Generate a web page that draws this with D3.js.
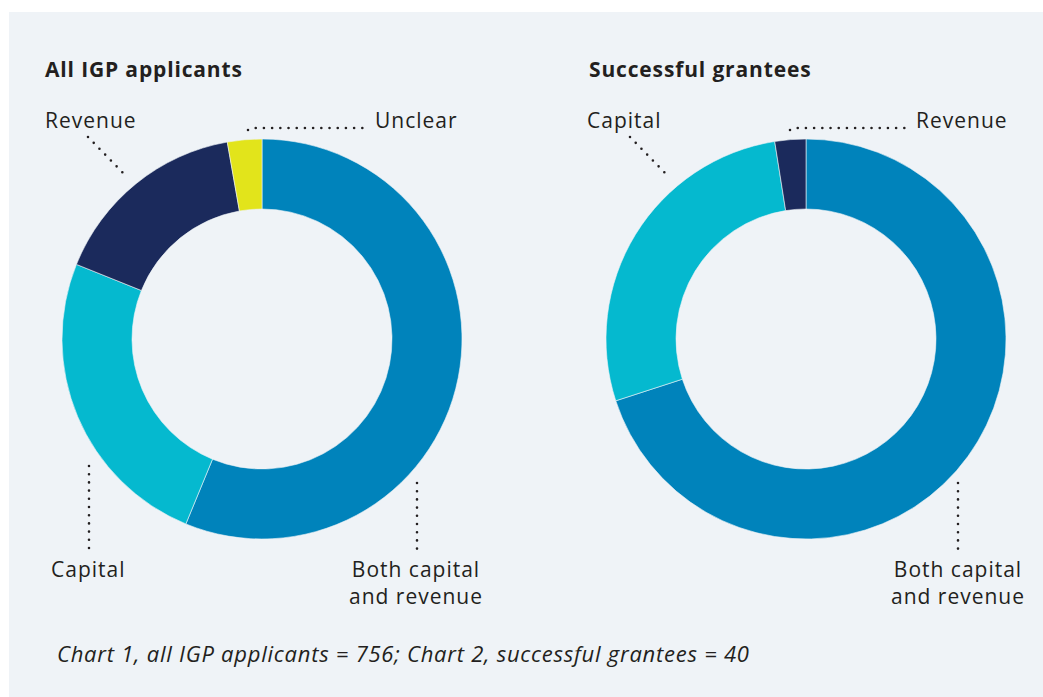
<!DOCTYPE html>
<html>
<head>
<meta charset="utf-8">
<script src="https://cdn.jsdelivr.net/npm/d3@7"></script>
<style>
  html, body { margin: 0; padding: 0; background: #ffffff; }
  svg { display: block; }
  text { font-family: "Open Sans", Lato, sans-serif; fill: #231f20; }
</style>
</head>
<body>
<svg id="chart" width="1043" height="697"></svg>
<script>
// Funding type breakdown, counts per category
const categories = ["Both capital and revenue", "Capital", "Revenue", "Unclear"];
const applicantCounts = [425, 188, 122, 21];   // all IGP applicants, n = 756
const granteeCounts = [28, 11, 1, 0];          // successful grantees, n = 40
const chartTitles = ["All IGP applicants", "Successful grantees"];
const footnote = "Chart 1, all IGP applicants = 756; Chart 2, successful grantees = 40";

const colour = d3.scaleOrdinal()
  .domain(categories)
  .range(["#0083bb", "#05b9cf", "#1b2a5c", "#e2e41b"]);

const svg = d3.select("#chart");
svg.append("rect")
  .attr("x", 9).attr("y", 12)
  .attr("width", 1043 - 9).attr("height", 697 - 12)
  .attr("fill", "#eff3f7");

const outerR = 200, innerR = 130;
const pie = d3.pie().sort(null).value(d => d.value);
const arc = d3.arc().innerRadius(innerR).outerRadius(outerR);

// label layout for each donut: text lines, anchor, position and dotted leader
const charts = [
  {
    title: chartTitles[0], values: applicantCounts, cx: 262, cy: 339,
    labels: [
      { lines: ["Revenue"], x: -217, y: -211, anchor: "start", leader: [[-174, -202], [-136, -163]] },
      { lines: ["Unclear"], x: 113, y: -211, anchor: "start", leader: [[-14, -209], [-10, -211], [102, -211]] },
      { lines: ["Capital"], x: -211, y: 238, anchor: "start", leader: [[-173, 127], [-173, 211]] },
      { lines: ["Both capital", "and revenue"], x: 154, y: 238, anchor: "middle", leader: [[155, 144], [155, 211]] }
    ]
  },
  {
    title: chartTitles[1], values: granteeCounts, cx: 806, cy: 339,
    labels: [
      { lines: ["Capital"], x: -219, y: -211, anchor: "start", leader: [[-176, -202], [-138, -163]] },
      { lines: ["Revenue"], x: 110, y: -211, anchor: "start", leader: [[-16, -209], [-12, -211], [99, -211]] },
      { lines: ["Both capital", "and revenue"], x: 152, y: 238, anchor: "middle", leader: [[152, 144], [152, 211]] }
    ]
  }
];

charts.forEach(c => {
  const data = categories.map((k, i) => ({ key: k, value: c.values[i] }))
    .filter(d => d.value > 0);

  svg.append("text")
    .attr("x", c.cx - 217).attr("y", 77)
    .attr("font-size", 21).attr("font-weight", 700)
    .attr("letter-spacing", 0.85)
    .text(c.title);

  const g = svg.append("g").attr("transform", `translate(${c.cx},${c.cy})`);

  g.selectAll("path.slice")
    .data(pie(data))
    .join("path")
    .attr("class", "slice")
    .attr("d", arc)
    .attr("fill", d => colour(d.data.key))
    .attr("stroke", "#eff3f7")
    .attr("stroke-width", 0.6);

  c.labels.forEach(l => {
    g.append("path")
      .attr("d", d3.line()(l.leader))
      .attr("fill", "none")
      .attr("stroke", "#231f20")
      .attr("stroke-width", 2.6)
      .attr("stroke-linecap", "round")
      .attr("stroke-dasharray", "0 8.2");

    const t = g.append("text")
      .attr("x", l.x).attr("y", l.y)
      .attr("font-size", 21)
      .attr("letter-spacing", 1)
      .attr("text-anchor", l.anchor);
    l.lines.forEach((line, i) => {
      t.append("tspan").attr("x", l.x).attr("dy", i === 0 ? 0 : 27).text(line);
    });
  });
});

svg.append("text")
  .attr("x", 57).attr("y", 662)
  .attr("font-size", 22).attr("font-style", "italic")
  .attr("letter-spacing", 0.75)
  .text(footnote);
</script>
</body>
</html>
